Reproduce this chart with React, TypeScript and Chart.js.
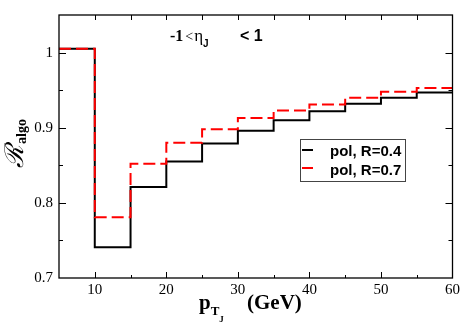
import React, { useEffect, useRef } from "react";
import { Chart, registerables } from "chart.js";

Chart.register(...registerables);

const binEdges = [5, 10, 15, 20, 25, 30, 35, 40, 45, 50, 55, 60];
const r04Values = [1.005, 0.741, 0.821, 0.855, 0.879, 0.896, 0.910, 0.922, 0.932, 0.940, 0.947];
const r07Values = [1.005, 0.781, 0.852, 0.880, 0.898, 0.913, 0.923, 0.931, 0.940, 0.948, 0.953];
const seriesLabels = ["pol, R=0.4", "pol, R=0.7"];

function stepPoints(values: number[]) {
  const pts = values.map((v, i) => ({ x: binEdges[i], y: v }));
  pts.push({ x: binEdges[binEdges.length - 1], y: values[values.length - 1] });
  return pts;
}

const SERIF = "'Liberation Serif', 'Times New Roman', serif";
const SANS = "'Liberation Sans', Arial, sans-serif";

const decorPlugin = {
  id: "decor",
  afterDraw(chart: any) {
    const ctx = chart.ctx as CanvasRenderingContext2D;
    const { left, right, top, bottom } = chart.chartArea;
    const xs = chart.scales.x;
    const ys = chart.scales.y;
    ctx.save();
    // frame
    ctx.strokeStyle = "#000";
    ctx.lineWidth = 1.3;
    ctx.strokeRect(left, top, right - left, bottom - top);
    // ticks inward
    ctx.lineWidth = 1;
    ctx.beginPath();
    xs.ticks.forEach((t: any) => {
      const v = t.value;
      const px = Math.round(xs.getPixelForValue(v)) + 0.5;
      const major = Math.round(v) % 10 === 0;
      const lb = major ? 6 : 3;
      const lt = 5;
      if (v <= 5 || v >= 60) return;
      ctx.moveTo(px, bottom);
      ctx.lineTo(px, bottom - lb);
      ctx.moveTo(px, top);
      ctx.lineTo(px, top + lt);
    });
    ys.ticks.forEach((t: any) => {
      const v = t.value;
      const r = Math.round(v * 100);
      if (r <= 70 || r >= 105) return;
      const py = Math.round(ys.getPixelForValue(v)) + 0.5;
      const major = r % 10 === 0;
      const l = major ? 7 : 4;
      ctx.moveTo(left, py);
      ctx.lineTo(left + l, py);
      ctx.moveTo(right, py);
      ctx.lineTo(right - l, py);
    });
    ctx.stroke();

    // title -1 < eta_J < 1
    ctx.fillStyle = "#000";
    ctx.textBaseline = "alphabetic";
    ctx.textAlign = "left";
    let x = 170;
    ctx.font = `bold 16px ${SERIF}`;
    ctx.fillText("-1", x, 41);
    x += ctx.measureText("-1").width + 2;
    ctx.font = `14px ${SERIF}`;
    ctx.fillText("<", x, 41);
    x += ctx.measureText("<").width + 1;
    ctx.font = `17px ${SERIF}`;
    ctx.fillText("η", x, 41);
    x += ctx.measureText("η").width;
    ctx.font = `bold 10px ${SANS}`;
    ctx.fillText("J", x, 47);
    ctx.font = `bold 16px ${SANS}`;
    ctx.fillText("< 1", 240, 41);

    // x title
    ctx.font = `bold 21px ${SERIF}`;
    ctx.fillText("p", 199, 309);
    let xx = 199 + ctx.measureText("p").width;
    ctx.font = `bold 13px ${SERIF}`;
    ctx.fillText("T", xx, 315);
    xx += ctx.measureText("T").width;
    ctx.font = `bold 9px ${SERIF}`;
    ctx.fillText("J", xx, 322);
    ctx.font = `bold 21px ${SERIF}`;
    ctx.fillText("(GeV)", 247, 309);

    // y title
    ctx.save();
    ctx.translate(23, 168);
    ctx.rotate(-Math.PI / 2);
    ctx.font = `italic 26px 'DejaVu Serif', serif`;
    ctx.fillText("ℛ", 0, 0);
    const rw = ctx.measureText("ℛ").width;
    ctx.font = `bold 14px ${SERIF}`;
    ctx.fillText("algo", rw + 1, 3);
    ctx.restore();

    // legend
    ctx.strokeStyle = "#444";
    ctx.lineWidth = 1;
    ctx.strokeRect(300.5, 139.5, 105, 42);
    ctx.lineWidth = 2;
    ctx.strokeStyle = "#000";
    ctx.beginPath();
    ctx.moveTo(302, 150);
    ctx.lineTo(313, 150);
    ctx.stroke();
    ctx.strokeStyle = "#ff0000";
    ctx.beginPath();
    ctx.moveTo(302, 168);
    ctx.lineTo(313, 168);
    ctx.stroke();
    ctx.font = `bold 15px ${SANS}`;
    ctx.fillStyle = "#000";
    ctx.fillText(seriesLabels[0], 330, 156);
    ctx.fillText(seriesLabels[1], 330, 175);
    ctx.restore();
  },
};

export default function App() {
  const ref = useRef<HTMLCanvasElement | null>(null);
  useEffect(() => {
    document.body.style.margin = "0";
    const canvas = ref.current;
    if (!canvas) return;
    const chart = new Chart(canvas, {
      type: "line",
      data: {
        datasets: [
          {
            label: seriesLabels[0],
            data: stepPoints(r04Values),
            borderColor: "#000000",
            borderWidth: 2,
            stepped: "before",
            pointRadius: 0,
            fill: false,
            order: 1,
          },
          {
            label: seriesLabels[1],
            data: stepPoints(r07Values),
            borderColor: "#ff0000",
            borderWidth: 2,
            borderDash: [12, 5],
            stepped: "before",
            pointRadius: 0,
            fill: false,
            order: 0,
          },
        ],
      },
      options: {
        responsive: false,
        animation: false,
        layout: { padding: { top: 1, right: 9, left: 0, bottom: 0 } },
        plugins: { legend: { display: false }, tooltip: { enabled: false }, title: { display: false } },
        scales: {
          x: {
            type: "linear",
            min: 5,
            max: 60,
            grid: { display: false, drawTicks: false },
            border: { display: false },
            ticks: {
              stepSize: 5,
              padding: 3,
              maxRotation: 0,
              autoSkip: false,
              color: "#000",
              font: { family: SERIF, size: 15 },
              callback: (v: any) => (Math.round(v) % 10 === 0 ? String(Math.round(v)) : ""),
            },
            afterFit: (s: any) => {
              s.height = 48;
            },
          },
          y: {
            type: "linear",
            min: 0.7,
            max: 1.05,
            grid: { display: false, drawTicks: false },
            border: { display: false },
            ticks: {
              stepSize: 0.05,
              padding: 6,
              autoSkip: false,
              color: "#000",
              font: { family: SERIF, size: 15 },
              callback: (v: any) => {
                const r = Math.round(v * 100);
                if (r % 10 !== 0 || r > 100) return "";
                return r === 100 ? "1" : (r / 100).toFixed(1);
              },
            },
            afterFit: (s: any) => {
              s.width = 59;
            },
          },
        },
      },
      plugins: [decorPlugin],
    });
    return () => chart.destroy();
  }, []);
  return (
    <div style={{ position: "absolute", left: 0, top: 0, width: 463, height: 326, background: "#fff" }}>
      <canvas ref={ref} width={463} height={326} />
    </div>
  );
}
